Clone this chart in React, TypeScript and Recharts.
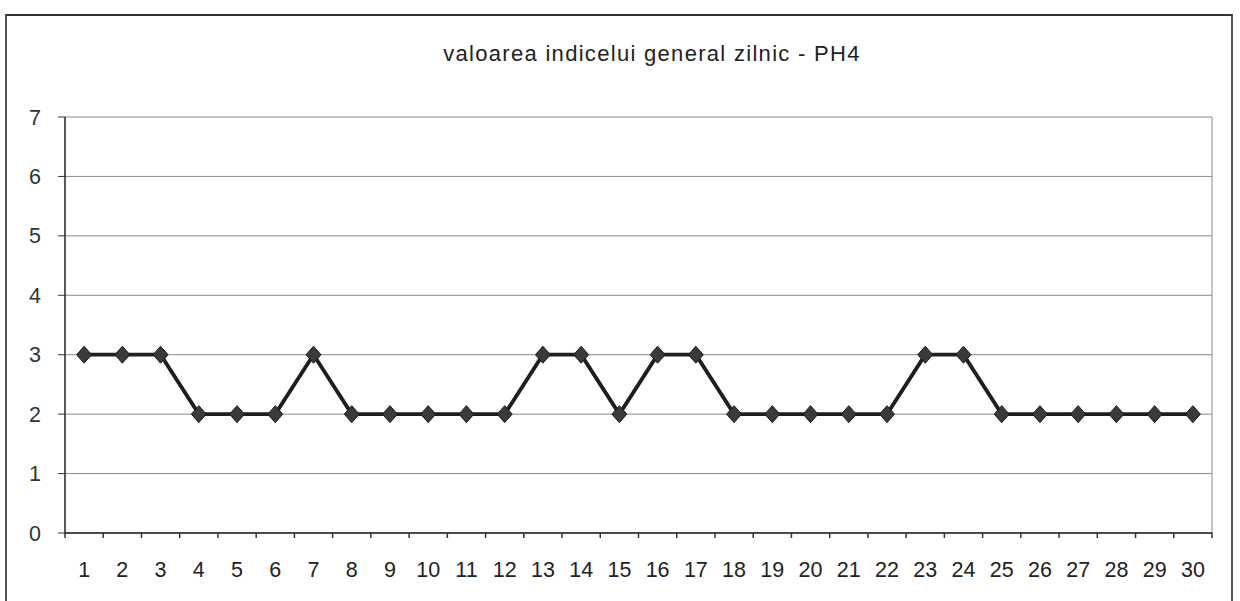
import React from 'react';
import { LineChart, Line, XAxis, YAxis, CartesianGrid, ReferenceLine } from 'recharts';

const days = [
  1, 2, 3, 4, 5, 6, 7, 8, 9, 10, 11, 12, 13, 14, 15,
  16, 17, 18, 19, 20, 21, 22, 23, 24, 25, 26, 27, 28, 29, 30,
];
const values = [3, 3, 3, 2, 2, 2, 3, 2, 2, 2, 2, 2, 3, 3, 2, 3, 3, 2, 2, 2, 2, 2, 3, 3, 2, 2, 2, 2, 2, 2];
const yTicks = [0, 1, 2, 3, 4, 5, 6, 7];
const title = 'valoarea indicelui general zilnic - PH4';

const data = days.map((d, i) => ({ day: d, value: values[i] }));

// labels sit on the days, tick marks sit between them (Excel style)
const xTicks: number[] = [];
days.forEach((d) => {
  xTicks.push(d - 0.5, d);
});
xTicks.push(days[days.length - 1] + 0.5);

const FONT = '"Liberation Sans", Arial, sans-serif';

const XTick = (props: any) => {
  const { x, y, payload } = props;
  const v = payload.value as number;
  if (Number.isInteger(v)) {
    return (
      <text x={x} y={y + 38} textAnchor="middle" fill="#222" fontSize={21.5} fontFamily={FONT} dominantBaseline="middle">
        {v}
      </text>
    );
  }
  return <line x1={x} y1={y} x2={x} y2={y + 5} stroke="#333" strokeWidth={1.5} />;
};

const Diamond = (props: any) => {
  const { cx, cy } = props;
  if (cx == null || cy == null) return null;
  const w = 7.5;
  const h = 8.5;
  return (
    <polygon
      points={`${cx},${cy - h} ${cx + w},${cy} ${cx},${cy + h} ${cx - w},${cy}`}
      fill="#3a3a3a"
      stroke="#1a1a1a"
      strokeWidth={1}
    />
  );
};

export default function App() {
  return (
    <div style={{ position: 'absolute', left: 0, top: 0, width: 1240, height: 601, background: '#fff', overflow: 'hidden' }}>
      <div
        style={{
          position: 'absolute',
          left: 5,
          top: 14,
          width: 1228,
          height: 620,
          border: '2px solid #555',
          borderTopColor: '#333',
          boxSizing: 'border-box',
        }}
      />
      <div
        style={{
          position: 'absolute',
          left: 350,
          width: 604,
          top: 41,
          textAlign: 'center',
          fontFamily: FONT,
          fontSize: 22,
          letterSpacing: 1.3,
          color: '#222',
        }}
      >
        {title}
      </div>
      <div style={{ position: 'absolute', left: 0, top: 0 }}>
        <LineChart width={1240} height={601} data={data} margin={{ top: 117, right: 28, bottom: 0, left: 5 }}>
          <CartesianGrid horizontal vertical={false} stroke="#8a8a8a" strokeWidth={1} />
          <XAxis
            dataKey="day"
            type="number"
            domain={[0.5, 30.5]}
            ticks={xTicks}
            interval={0}
            tick={<XTick />}
            tickLine={false}
            tickSize={0}
            tickMargin={0}
            axisLine={{ stroke: '#222', strokeWidth: 1.5 }}
            height={68}
          />
          <YAxis
            domain={[0, 7]}
            ticks={yTicks}
            interval={0}
            width={60}
            tickSize={7}
            tickMargin={17}
            tick={{ fill: '#333', fontSize: 21.5, fontFamily: FONT }}
            tickLine={{ stroke: '#333' }}
            axisLine={{ stroke: '#222', strokeWidth: 1.5 }}
          />
          <ReferenceLine x={30.5} stroke="#8a8a8a" strokeWidth={1} />
          <Line
            type="linear"
            dataKey="value"
            stroke="#1e1e1e"
            strokeWidth={3.8}
            dot={<Diamond />}
            activeDot={false}
            isAnimationActive={false}
          />
        </LineChart>
      </div>
    </div>
  );
}
